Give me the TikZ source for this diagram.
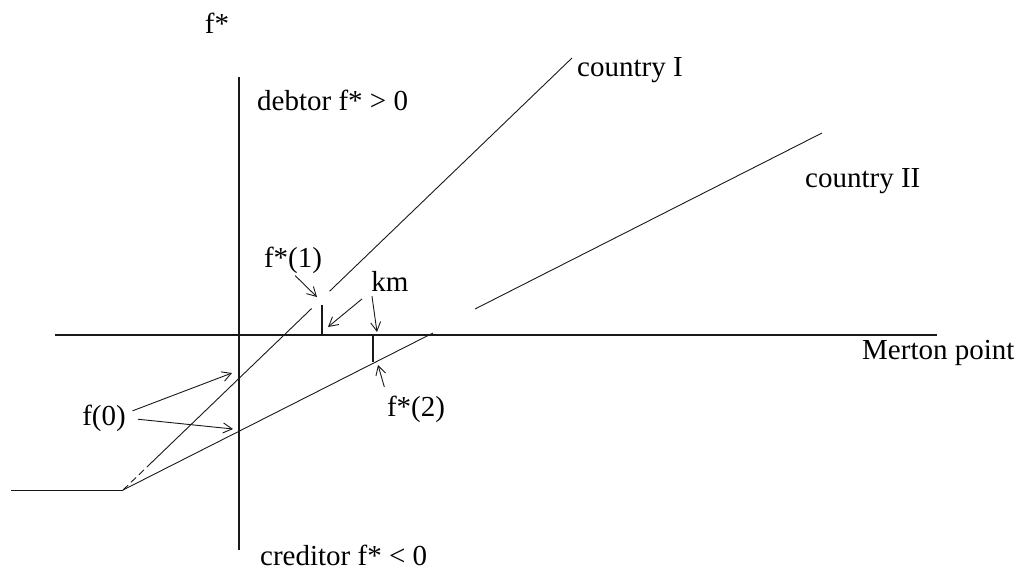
\documentclass[tikz,border=0pt]{standalone}
\usepackage{fontspec}
\setmainfont{Liberation Serif}
\usetikzlibrary{arrows.meta,calc}
\definecolor{figline}{RGB}{25,25,25}

\begin{document}
\begin{tikzpicture}[x=1pt, y=-1pt,
  font=\fontsize{29}{32}\selectfont,
  lbl/.style={inner sep=0pt, text=black},
  axis/.style={draw=figline, line width=1.3pt},
  curve/.style={draw=figline, line width=0.9pt},
  arr/.style={-{Straight Barb[length=9pt,width=10pt]}, figline, line width=0.9pt}]
  \useasboundingbox (0,0) rectangle (1025,576);
  % axes
  \coordinate (ytop) at (239,77);
  \coordinate (ybot) at (239,550);
  \coordinate (xleft) at (55,335);
  \coordinate (xright) at (937,335);
  \draw[axis] (ytop) -- (ybot);
  \draw[axis] (xleft) -- (xright);
  % the two countries
  \coordinate (floor) at (11,490);
  \coordinate (kink) at (123,490);
  \coordinate (cItop) at (572,58);
  \coordinate (cIIend) at (433,333);
  \coordinate (cIIstart) at (475,309);
  \coordinate (cIItop) at (822,133);
  \draw[curve] (floor) -- (kink);
  \draw[curve, dash pattern=on 7pt off 4pt] (kink) -- ($(kink)!0.055!(cItop)$);
  \draw[curve] ($(kink)!0.055!(cItop)$) -- ($(kink)!0.42!(cItop)$);
  \draw[curve] ($(kink)!0.46!(cItop)$) -- (cItop);
  \draw[curve] (kink) -- (cIIend);
  \draw[curve] (cIIstart) -- (cIItop);
  % km markers
  \coordinate (mkItop) at (322,305);
  \coordinate (mkIbot) at (322,335);
  \coordinate (mkIItop) at (373,335);
  \coordinate (mkIIbot) at (373,362);
  \draw[axis, line width=1.1pt] (mkItop) -- (mkIbot);
  \draw[axis, line width=1.1pt] (mkIItop) -- (mkIIbot);
  % labels
  \node[lbl, anchor=base] (fstar) at (217,33) {f*};
  \node[lbl, anchor=base west] (debtor) at (257,110) {debtor f* {>} 0};
  \node[lbl, anchor=base west] (creditor) at (260,565) {creditor f* {<} 0};
  \node[lbl, anchor=base west] (merton) at (862,359) {Merton point};
  \node[lbl, anchor=base west] (cI) at (577,76) {country I};
  \node[lbl, anchor=base west] (cII) at (805,187) {country II};
  \node[lbl] (fzero) at (104,418) {f(0)};
  \node[lbl] (fsone) at (293,260) {f*(1)};
  \node[lbl] (km) at (390,281) {km};
  \node[lbl] (fstwo) at (416,409) {f*(2)};
  % arrows
  \coordinate (hitI) at (232,373);
  \coordinate (hitII) at (233,429);
  \coordinate (hitone) at (317,297);
  \coordinate (hitkmI) at (328,327);
  \coordinate (hitkmII) at (377,332);
  \coordinate (hittwo) at (378,365);
  \draw[arr, shorten <=7pt] (fzero.12) -- (hitI);
  \draw[arr, shorten <=12pt] (fzero.east) -- (hitII);
  \draw[arr, shorten <=3pt] (fsone.south) -- (hitone);
  \draw[arr, shorten <=12pt] (km.south west) -- (hitkmI);
  \draw[arr, shorten <=5pt] (km.south west) -- (hitkmII);
  \draw[arr, shorten <=9pt] (fstwo.north west) -- (hittwo);
\end{tikzpicture}
\end{document}
